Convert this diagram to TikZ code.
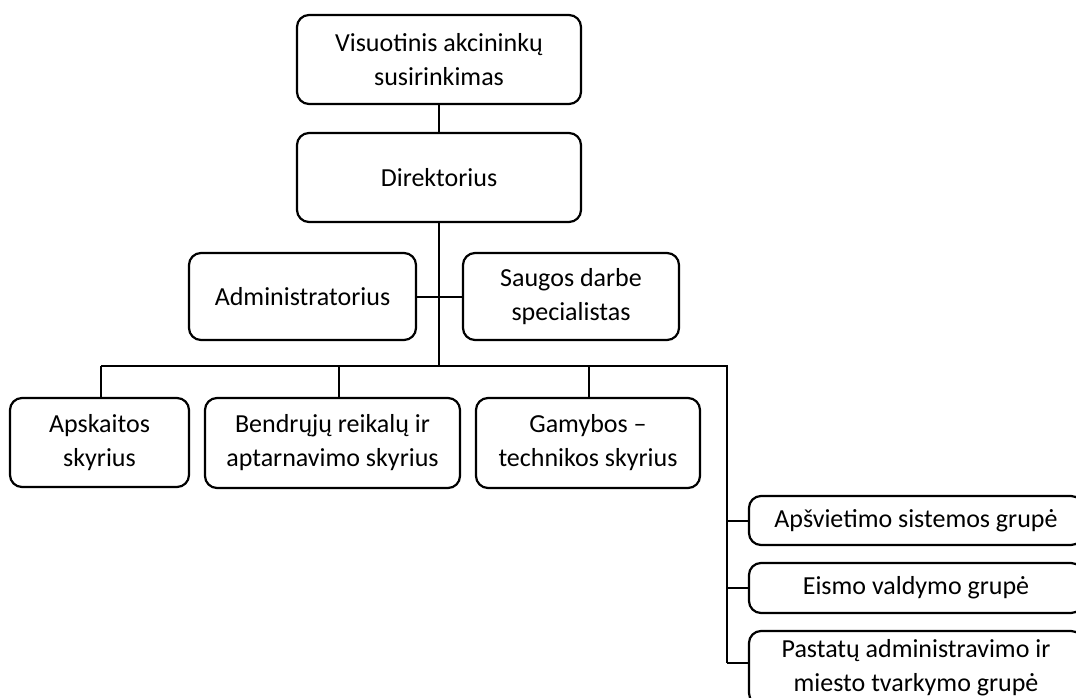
\documentclass[tikz,border=0pt]{standalone}
\usepackage{fontspec}
\setmainfont{Carlito}

\begin{document}
\begin{tikzpicture}[x=1pt,y=-1pt,line width=2.2pt,
		unit/.style={draw,rounded corners=12pt,align=center,inner sep=0pt,font=\fontsize{26}{34}\selectfont},
		link/.style={line width=2pt}]
		\clip (0,0) rectangle (1076,698);
		\node[unit,minimum width=284pt,minimum height=89pt] (susirinkimas) at (439,59.5) {Visuotinis akcininkų\\susirinkimas};
		\node[unit,minimum width=284pt,minimum height=89pt] (direktorius) at (439,177.5) {Direktorius};
		\node[unit,minimum width=227pt,minimum height=87pt] (admin) at (302.5,296.5) {Administratorius};
		\node[unit,minimum width=216pt,minimum height=87pt] (sauga) at (571,296.5) {Saugos darbe\\specialistas};
		\node[unit,minimum width=179pt,minimum height=89pt] (apskaita) at (99.5,442.5) {Apskaitos\\skyrius};
		\node[unit,minimum width=255pt,minimum height=90pt] (bendrieji) at (332.5,443) {Bendrųjų reikalų ir\\aptarnavimo skyrius};
		\node[unit,minimum width=224pt,minimum height=90pt] (gamyba) at (588,443) {Gamybos –\\technikos skyrius};
		\node[unit,minimum width=334pt,minimum height=49pt] (apsvietimas) at (916,520.5) {Apšvietimo sistemos grupė};
		\node[unit,minimum width=334pt,minimum height=50pt] (eismas) at (916,588) {Eismo valdymo grupė};
		\node[unit,minimum width=334pt,minimum height=74pt] (pastatai) at (916,668) {Pastatų administravimo ir\\miesto tvarkymo grupė};
		\coordinate (bus) at (439,366);
		\coordinate (busL) at (101,366);
		\coordinate (busR) at (727,366);
		\coordinate (dropB) at (339,366);
		\coordinate (dropG) at (589,366);
		\coordinate (grupes) at (727,663);
		\draw[link] (susirinkimas) -- (direktorius);
		\draw[link] (direktorius) -- (bus);
		\draw[link] (admin) -- (sauga);
		\draw[link] (busL) -- (busR) -- (grupes);
		\draw[link] (busL) -- (busL |- apskaita.north);
		\draw[link] (dropB) -- (dropB |- bendrieji.north);
		\draw[link] (dropG) -- (dropG |- gamyba.north);
		\draw[link] (busR |- apsvietimas.west) -- (apsvietimas.west);
		\draw[link] (busR |- eismas.west) -- (eismas.west);
		\draw[link] (grupes) -- (grupes -| pastatai.west);
	\end{tikzpicture}
\end{document}
